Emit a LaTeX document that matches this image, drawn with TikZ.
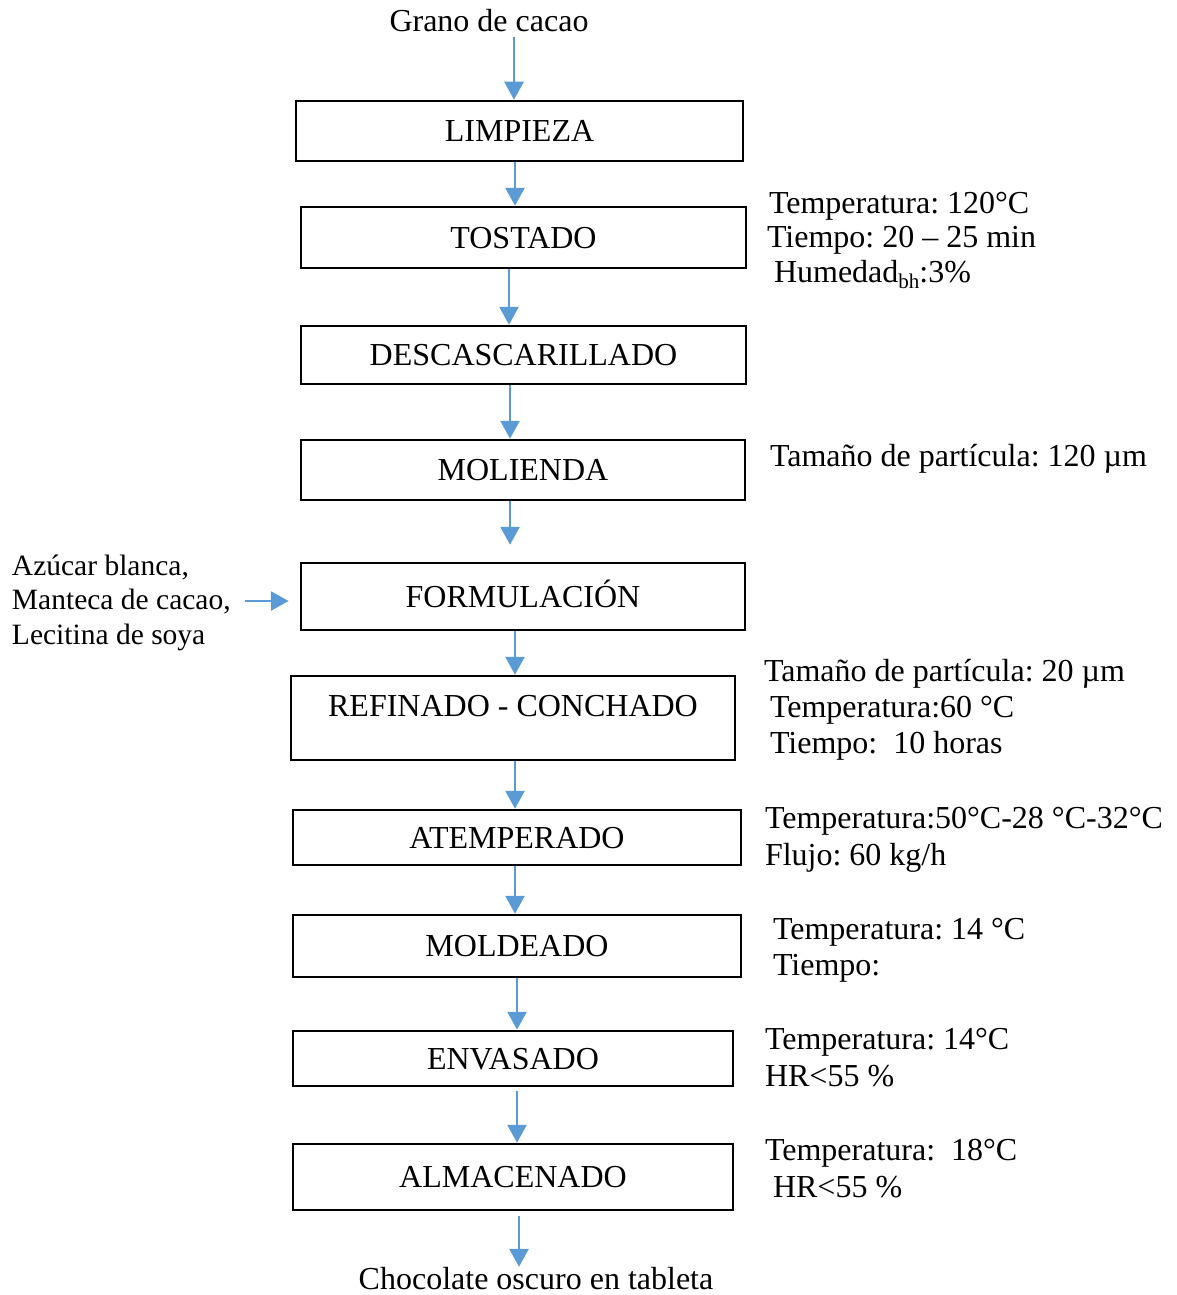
\documentclass[tikz,border=0pt]{standalone}
\usepackage{fontspec}
\setmainfont{Liberation Serif}
\usetikzlibrary{arrows.meta}
\definecolor{arrblue}{HTML}{5B9BD5}
\frenchspacing
\begin{document}
\begin{tikzpicture}[x=1pt,y=-1pt,
  every node/.style={font=\fontsize{32}{35}\selectfont\frenchspacing, inner sep=0pt, outer sep=0pt},
  box/.style={draw=black, line width=2.5pt, text height=21pt, text depth=0pt, outer sep=1.25pt},
  arr/.style={draw=arrblue, line width=2.8pt, -{Triangle[length=18pt,width=19pt]}},
  param/.style={anchor=base west},
  small/.style={anchor=base west, font=\fontsize{29.5}{34}\selectfont}]
\useasboundingbox (0,0) rectangle (1176,1295);
% process boxes
\node[box, minimum width=447, minimum height=60] (limpieza) at (519.5,131) {LIMPIEZA};
\node[box, minimum width=445, minimum height=61] (tostado) at (523.5,237.5) {TOSTADO};
\node[box, minimum width=445, minimum height=58] (descas) at (523.5,355) {DESCASCARILLADO};
\node[box, minimum width=444, minimum height=60] (molienda) at (523,470) {MOLIENDA};
\node[box, minimum width=444, minimum height=67] (formulacion) at (523,596.5) {FORMULACIÓN};
\node[box, minimum width=444, minimum height=84, text height=22pt, text depth=25pt] (refinado) at (513,718) {REFINADO - CONCHADO};
\node[box, minimum width=448, minimum height=55] (atemperado) at (517,837.5) {ATEMPERADO};
\node[box, minimum width=448, minimum height=62] (moldeado) at (517,946) {MOLDEADO};
\node[box, minimum width=440, minimum height=55] (envasado) at (513,1058.5) {ENVASADO};
\node[box, minimum width=440, minimum height=66] (almacenado) at (513,1177) {ALMACENADO};
% input / output
\node[anchor=base] (grano) at (489,32) {Grano de cacao};
\node[anchor=base] (chocolate) at (536,1289) {Chocolate oscuro en tableta};
\node[small] (ins1) at (12,575) {Azúcar blanca,};
\node[small] (ins2) at (12,609) {Manteca de cacao,};
\node[small] (ins3) at (12,644) {Lecitina de soya};
% parameters
\node[param] (p1a) at (769,213) {Temperatura: 120°C};
\node[param] (p1b) at (767,247) {Tiempo: 20 – 25 min};
\node[param] (p1c) at (774,282) {Humedad\raisebox{-6pt}{\fontsize{21}{21}\selectfont bh}:3\%};
\node[param] (p2a) at (770,466) {Tamaño de partícula: 120 µm};
\node[param] (p3a) at (764,681) {Tamaño de partícula: 20 µm};
\node[param] (p3b) at (770,717) {Temperatura:60 °C};
\node[param] (p3c) at (770,753) {Tiempo:\ \ 10 horas};
\node[param] (p4a) at (765,828) {Temperatura:50°C-28 °C-32°C};
\node[param] (p4b) at (765,865) {Flujo: 60 kg/h};
\node[param] (p5a) at (773,939) {Temperatura: 14 °C};
\node[param] (p5b) at (773,975) {Tiempo:};
\node[param] (p6a) at (765,1049) {Temperatura: 14°C};
\node[param] (p6b) at (765,1086) {HR<55 \%};
\node[param] (p7a) at (765,1160) {Temperatura:\ \ 18°C};
\node[param] (p7b) at (773,1197) {HR<55 \%};
% connectors
\draw[arr, shorten <=5pt] (grano.south -| 514,0) -- (limpieza.north -| 514,0);
\draw[arr] (limpieza.south -| 515,0) -- (tostado.north -| 515,0);
\draw[arr] (tostado.south -| 509,0) -- (descas.north -| 509,0);
\draw[arr] (descas.south -| 510,0) -- (molienda.north -| 510,0);
\draw[arr, shorten >=17pt] (molienda.south -| 510,0) -- (formulacion.north -| 510,0);
\draw[arr] (formulacion.south -| 515,0) -- (refinado.north -| 515,0);
\draw[arr] (refinado.south -| 515,0) -- (atemperado.north -| 515,0);
\draw[arr] (atemperado.south -| 515,0) -- (moldeado.north -| 515,0);
\draw[arr] (moldeado.south -| 517,0) -- (envasado.north -| 517,0);
\draw[arr, shorten <=4pt] (envasado.south -| 517,0) -- (almacenado.north -| 517,0);
\draw[arr, shorten <=5pt] (almacenado.south -| 519,0) -- (chocolate.north -| 519,0);
\draw[arr, shorten <=14pt, shorten >=11pt] (ins2.east |- 0,601) -- (formulacion.west |- 0,601);
\end{tikzpicture}
\end{document}
